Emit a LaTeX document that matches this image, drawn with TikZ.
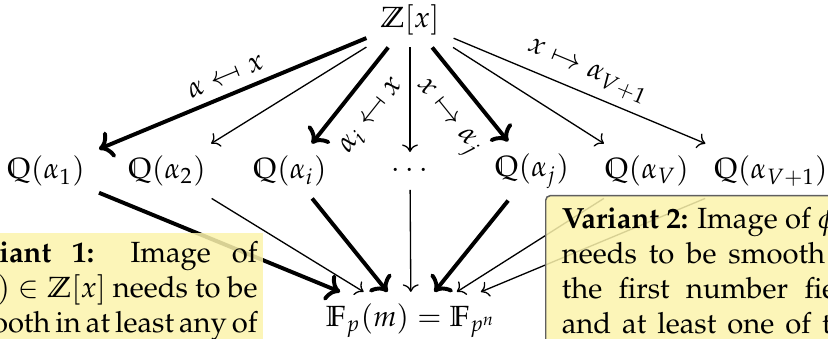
\documentclass[tikz,border=0pt]{standalone}
\usepackage[T1]{fontenc}
\usepackage{mathpazo}
\usepackage{amssymb}
\DeclareSymbolFontAlphabet{\mathbb}{AMSb}
\usepackage{graphicx}
\usetikzlibrary{arrows.meta}
\definecolor{boxfill}{RGB}{251,243,172}
\definecolor{boxdraw}{RGB}{95,95,95}
\newcommand{\mymapsfrom}{\mathrel{\reflectbox{$\mapsto$}}}
\newcommand{\boxsetup}{\fontsize{10}{12.2}\selectfont\hyphenpenalty=10000 \tolerance=10000 \relax}
\tikzset{
  cell/.style={inner xsep=1ex, inner ysep=0.85ex},
  thinarr/.style={line width=0.45pt, -{Computer Modern Rightarrow}},
  boldarr/.style={line width=1.35pt, -{Computer Modern Rightarrow}},
  lab/.style={sloped, inner sep=3pt},
  notebox/.style={fill=boxfill, fill opacity=0.86, text opacity=1, align=justify},
}
\begin{document}
\begin{tikzpicture}[x=0.3425pt,y=0.3425pt]
\useasboundingbox (0,-339) rectangle (828,0);
\clip (0,-339) rectangle (828,0);
\node[cell] (Z) at (410,-20) {$\mathbb{Z}[x]$};
\node[cell] (Q1) at (46,-171) {$\mathbb{Q}(\alpha_1)$};
\node[cell] (Q2) at (167,-171) {$\mathbb{Q}(\alpha_2)$};
\node[cell] (Qi) at (290,-171) {$\mathbb{Q}(\alpha_i)$};
\node[cell] (Qd) at (410,-171) {$\cdots$};
\node[cell] (Qj) at (532,-171) {$\mathbb{Q}(\alpha_j)$};
\node[cell] (QV) at (647,-171) {$\mathbb{Q}(\alpha_V)$};
\node[cell] (QW) at (771,-171) {$\mathbb{Q}(\alpha_{V+1})$};
\node[cell] (F) at (411,-321) {$\mathbb{F}_p(m) = \mathbb{F}_{p^n}$};

\draw[boldarr] (Z) -- node[lab, above, pos=0.5] {$\alpha \mymapsfrom x$} (Q1);
\draw[thinarr] (Z) -- (Q2);
\draw[boldarr] (Z) -- node[lab, below=3.5pt, pos=0.52] {$\alpha_i \mymapsfrom x$} (Qi);
\draw[thinarr] (Z) -- (Qd);
\draw[boldarr] (Z) -- node[lab, below=3.5pt, pos=0.53] {$x \mapsto \alpha_j$} (Qj);
\draw[thinarr] (Z) -- (QV);
\draw[thinarr] (Z) -- node[lab, above, pos=0.5] {$x \mapsto \alpha_{V+1}$} (QW);

\draw[boldarr] (Q1) -- (F);
\draw[thinarr] (Q2) -- (F);
\draw[boldarr] (Qi) -- (F);
\draw[thinarr] (Qd) -- (F);
\draw[boldarr] (Qj) -- (F);
\draw[thinarr] (QV) -- (F);
\draw[thinarr] (QW) -- (F);

\node[notebox, anchor=north east, text width=104pt, inner xsep=2pt, inner ysep=3pt] (v1) at (264,-232)
  {\boxsetup\spaceskip=2.5pt plus 4pt minus 1pt\relax
   \textbf{Variant 1:} Image of\linebreak $f(0) \in \mathbb{Z}[x]$ needs to be\linebreak smooth in at least any of\linebreak the number fields};
\node[notebox, anchor=north west, draw=boxdraw, line width=0.5pt, rounded corners=1.5pt, text width=103pt, inner xsep=5.5pt, inner ysep=3.5pt] (v2) at (545,-195)
  {\boxsetup\mbox{\textbf{Variant 2:} Image of $\phi(m)$}\\ needs to be smooth in\linebreak the first number field\linebreak and at least one of the\linebreak others};
\end{tikzpicture}
\end{document}
